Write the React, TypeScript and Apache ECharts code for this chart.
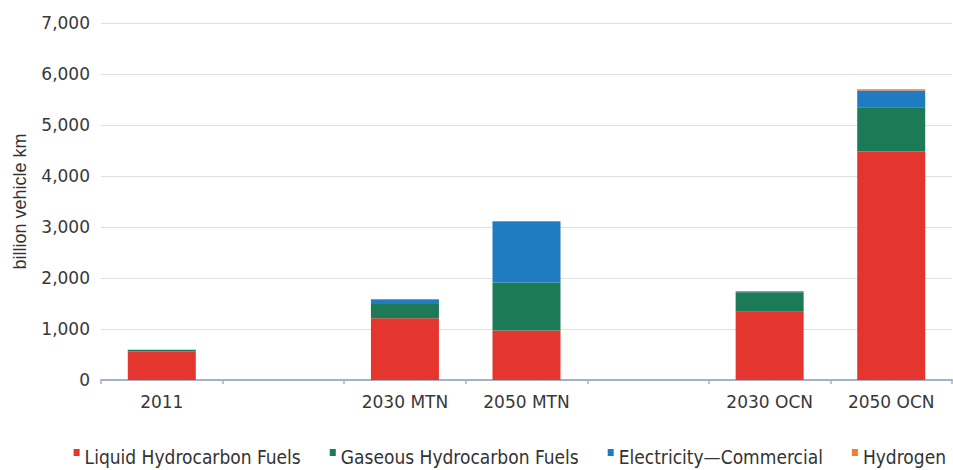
import React, { useEffect, useRef } from "react";
import * as echarts from "echarts";

const categories = ["2011", "", "2030 MTN", "2050 MTN", "", "2030 OCN", "2050 OCN"];
const liquid = [560, null, 1210, 970, null, 1340, 4480];
const gaseous = [35, null, 280, 940, null, 380, 870];
const electricity = [0, null, 80, 1190, null, 5, 325];
const hydrogen = [0, null, 20, 20, null, 20, 25];
const yTicks = { min: 0, max: 7000, interval: 1000 };

const seriesDefs = [
  { name: "Liquid Hydrocarbon Fuels", data: liquid, color: "#e4362f" },
  { name: "Gaseous Hydrocarbon Fuels", data: gaseous, color: "#1c7a57" },
  { name: "Electricity\u2014Commercial", data: electricity, color: "#1f7cc2" },
  { name: "Hydrogen", data: hydrogen, color: "#f47b2f" },
];

// square marker raised toward the top of the legend line (tiny dot fixes bounding box)
const markerIcon = "path://M0,0H6V7H0Z M0,14.9H0.05V15H0Z";

export default function App() {
  const ref = useRef<HTMLDivElement>(null);
  useEffect(() => {
    document.body.style.margin = "0";
    const chart = echarts.init(ref.current!, null, { renderer: "svg" });
    chart.setOption({
      animation: false,
      backgroundColor: "#ffffff",
      grid: { left: 101, right: 1, top: 23, bottom: 90, containLabel: false },
      legend: {
        bottom: -1,
        right: 2,
        itemWidth: 6,
        itemHeight: 15,
        itemGap: 29,
        icon: markerIcon,
        textStyle: { fontFamily: "DejaVu Sans Condensed", fontSize: 19, color: "#333", padding: [0, 0, 0, 0] },
        data: seriesDefs.map((s) => s.name),
      },
      xAxis: {
        type: "category",
        data: categories,
        axisLine: { lineStyle: { color: "#a7afc9", width: 2 } },
        axisTick: { show: true, length: 4, lineStyle: { color: "#a7afc9", width: 1.5 } },
        axisLabel: { fontFamily: "DejaVu Sans", fontSize: 17, color: "#383838", margin: 13 },
      },
      yAxis: {
        type: "value",
        min: yTicks.min,
        max: yTicks.max,
        interval: yTicks.interval,
        name: "billion vehicle km",
        nameLocation: "middle",
        nameGap: 72,
        nameTextStyle: { fontFamily: "Liberation Sans", fontSize: 18, color: "#333" },
        axisLine: { show: false },
        axisTick: { show: false },
        splitLine: { lineStyle: { color: "#e0e0e0", width: 1 } },
        axisLabel: {
          fontFamily: "DejaVu Sans",
          fontSize: 17,
          color: "#383838",
          margin: 11,
          formatter: (v: number) => v.toLocaleString("en-US"),
        },
      },
      series: seriesDefs.map((s) => ({
        name: s.name,
        type: "bar",
        stack: "total",
        barWidth: 68,
        data: s.data,
        itemStyle: { color: s.color },
      })),
    });
    return () => chart.dispose();
  }, []);
  return <div ref={ref} style={{ width: 953, height: 470 }} />;
}
